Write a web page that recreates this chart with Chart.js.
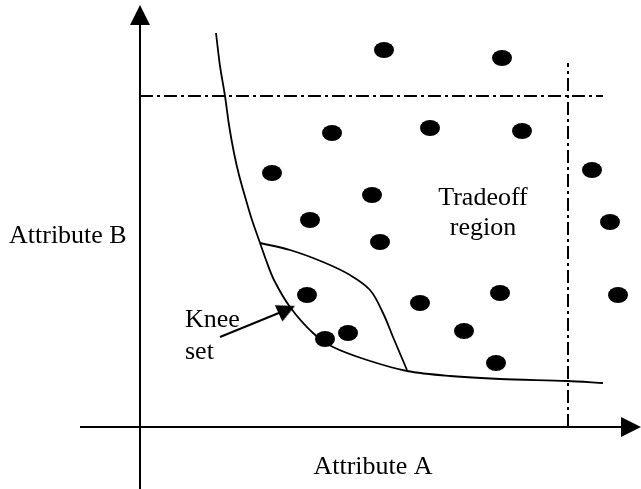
<!DOCTYPE html>
<html lang="en">
<head>
    <meta charset="UTF-8">
    <title>Knee set / Tradeoff region</title>
    <script src="https://cdn.jsdelivr.net/npm/chart.js@4.4.0/dist/chart.umd.min.js"></script>
    <style>
        html, body { margin: 0; padding: 0; background: #fff; }
        canvas { display: block; }
    </style>
</head>
<body>
    <canvas id="kneeChart" width="641" height="489"></canvas>

    <script>
        // solutions (Attribute A, Attribute B)
        const dotsA = [4.88, 7.24, 3.84, 5.80, 7.64, 2.64, 9.04, 4.64, 3.40, 9.40, 4.80, 3.34, 7.20, 9.56, 5.60, 4.16, 6.48, 3.70, 7.12];
        const dotsB = [7.54, 7.38, 5.88, 5.98, 5.92, 5.08, 5.14, 4.64, 4.14, 4.10, 3.70, 2.64, 2.68, 2.64, 2.48, 1.88, 1.92, 1.76, 1.28];

        // pareto front
        const frontA = [1.52, 1.60, 1.70, 1.78, 1.88, 1.98, 2.12, 2.24, 2.38, 2.52, 2.68, 3.00, 3.46, 3.86, 4.54, 5.34, 6.20, 7.20, 8.54, 9.26];
        const frontB = [7.88, 7.22, 6.62, 6.04, 5.48, 5.04, 4.54, 4.14, 3.74, 3.34, 2.94, 2.40, 1.88, 1.60, 1.34, 1.12, 1.02, 0.96, 0.92, 0.88];

        // knee region boundary
        const kneeA = [2.40, 3.00, 3.66, 4.20, 4.60, 4.86, 5.06, 5.34];
        const kneeB = [3.68, 3.54, 3.30, 3.04, 2.74, 2.28, 1.80, 1.14];

        // limits (dash-dot)
        const limitA = 8.56;
        const limitB = 6.62;
        const limitTopB = 7.28;
        const limitEndA = 9.26;

        // axes
        const axisA = [-1.2, 10.02];
        const axisB = [-1.24, 8.44];

        // "Knee set" pointer
        const pointerA = [1.60, 2.936];
        const pointerB = [1.80, 2.346];

        const toXY = (xs, ys) => xs.map((x, i) => ({ x: x, y: ys[i] }));

        function makeDot() {
            const c = document.createElement('canvas');
            c.width = 20; c.height = 16;
            const g = c.getContext('2d');
            g.fillStyle = '#000';
            g.beginPath();
            g.ellipse(10, 8, 10, 8, 0, 0, Math.PI * 2);
            g.fill();
            return c;
        }

        function makeHead(w, h) {
            const c = document.createElement('canvas');
            c.width = w; c.height = h;
            const g = c.getContext('2d');
            g.fillStyle = '#000';
            g.beginPath();
            g.moveTo(w / 2, 0);
            g.lineTo(w, h);
            g.lineTo(0, h);
            g.closePath();
            g.fill();
            return c;
        }

        const dot = makeDot();
        const bigHead = makeHead(20, 20);
        const smallHead = makeHead(18, 18);

        const lineDs = (data, extra) => Object.assign({
            data: data,
            showLine: true,
            borderColor: '#000',
            borderWidth: 2,
            pointRadius: 0,
            fill: false
        }, extra || {});

        const labelsPlugin = {
            id: 'labels',
            afterDraw(chart) {
                const ctx = chart.ctx;
                const sx = chart.scales.x, sy = chart.scales.y;
                ctx.save();
                ctx.fillStyle = '#000';
                ctx.font = '26px "Liberation Serif", "Times New Roman", serif';
                ctx.textBaseline = 'alphabetic';
                const put = (txt, x, y, align) => {
                    ctx.textAlign = align;
                    ctx.fillText(txt, sx.getPixelForValue(x), sy.getPixelForValue(y));
                };
                put('Attribute B', -2.62, 3.68, 'left');
                put('Attribute A', 4.66, -0.94, 'center');
                put('Tradeoff', 6.86, 4.44, 'center');
                put('region', 6.86, 3.84, 'center');
                put('Knee', 0.90, 2.00, 'left');
                put('set', 0.90, 1.36, 'left');
                ctx.restore();
            }
        };

        new Chart(document.getElementById('kneeChart'), {
            type: 'scatter',
            data: {
                datasets: [
                    // axes
                    lineDs([{ x: 0, y: axisB[0] }, { x: 0, y: axisB[1] - 0.3 }]),
                    lineDs([{ x: axisA[0], y: 0 }, { x: axisA[1] - 0.3, y: 0 }]),
                    {
                        data: [{ x: 0, y: axisB[1] - 0.2 }],
                        pointStyle: bigHead, pointRotation: 0
                    },
                    {
                        data: [{ x: axisA[1] - 0.2, y: 0 }],
                        pointStyle: bigHead, pointRotation: 90
                    },
                    // dash-dot limits
                    lineDs([{ x: 0, y: limitB }, { x: limitEndA, y: limitB }], { borderDash: [13, 4, 3, 4] }),
                    lineDs([{ x: limitA, y: 0 }, { x: limitA, y: limitTopB }], { borderDash: [13, 4, 3, 4] }),
                    // curves
                    lineDs(toXY(frontA, frontB), { tension: 0.3, borderWidth: 1.8 }),
                    lineDs(toXY(kneeA, kneeB), { tension: 0.35, borderWidth: 1.8 }),
                    // pointer
                    lineDs(toXY(pointerA, pointerB), { borderWidth: 2 }),
                    {
                        data: [{ x: pointerA[1], y: pointerB[1] }],
                        pointStyle: smallHead, pointRotation: 65.6
                    },
                    // solutions
                    {
                        data: toXY(dotsA, dotsB),
                        pointStyle: dot
                    }
                ]
            },
            options: {
                responsive: false,
                animation: false,
                events: [],
                layout: { padding: 0, autoPadding: false },
                plugins: {
                    legend: { display: false },
                    tooltip: { enabled: false }
                },
                scales: {
                    x: { type: 'linear', min: -2.8, max: 10.02, display: false },
                    y: { type: 'linear', min: -1.24, max: 8.54, display: false }
                }
            },
            plugins: [labelsPlugin]
        });
    </script>
</body>
</html>
